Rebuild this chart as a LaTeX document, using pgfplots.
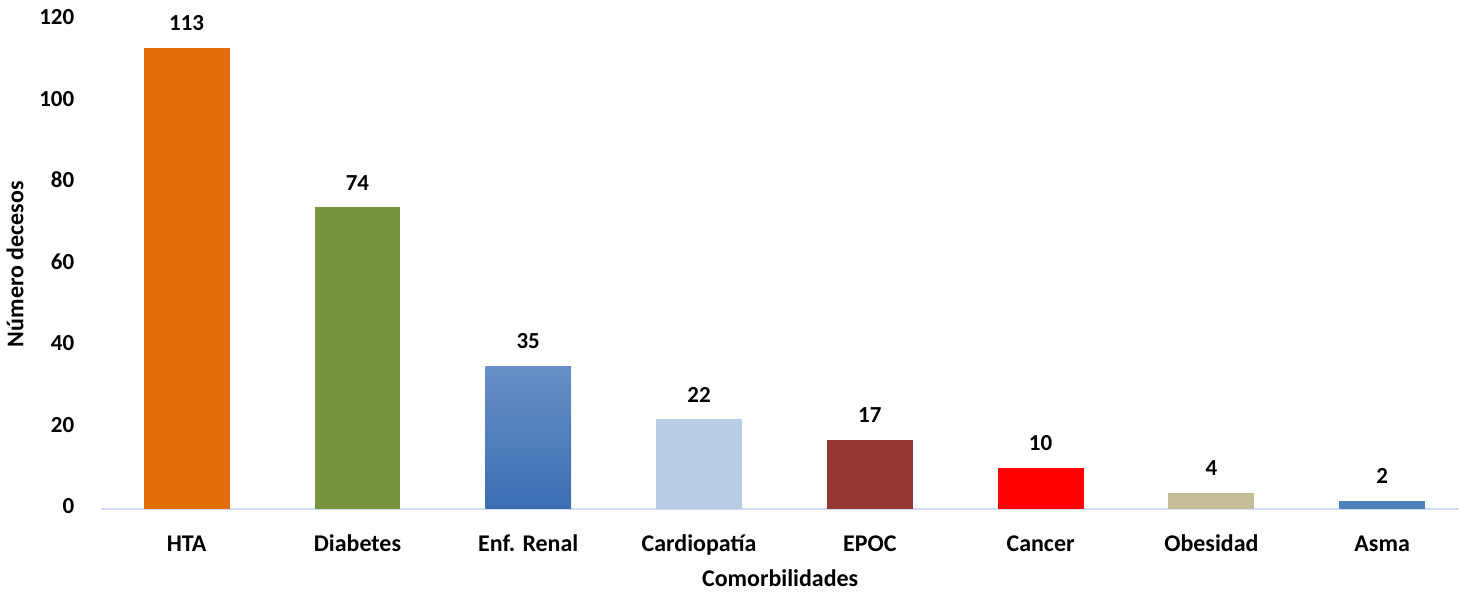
\documentclass[border=0pt]{standalone}
\usepackage{pgfplots}
\pgfplotsset{compat=1.18}
\usepackage{fontspec}
\setmainfont{Carlito}
\definecolor{cHTA}{RGB}{228,108,10}
\definecolor{cDia}{RGB}{119,147,60}
\definecolor{cRenTop}{RGB}{106,143,199}
\definecolor{cRenBot}{RGB}{58,110,178}
\definecolor{cCar}{RGB}{185,205,229}
\definecolor{cEPOC}{RGB}{149,55,53}
\definecolor{cCan}{RGB}{255,0,0}
\definecolor{cObe}{RGB}{196,189,151}
\definecolor{cAsma}{RGB}{79,129,189}
\definecolor{axline}{RGB}{208,220,240}
\begin{document}
\begin{tikzpicture}
\begin{axis}[
  scale only axis,
  width=680pt, height=245pt,
  xmin=-0.5, xmax=7.45,
  ymin=0, ymax=120,
  ytick={0,20,...,120},
  xtick={0,...,7},
  xticklabels={HTA,Diabetes,Enf. Renal,Cardiopatía,EPOC,Cancer,Obesidad,Asma},
  axis x line*=bottom,
  axis y line*=left,
  y axis line style={draw=none},
  x axis line style={axline, line width=1pt, -},
  major tick length=0pt,
  typeset ticklabels with strut,
  yticklabel style={font=\fontsize{11.5}{13}\selectfont\bfseries, xshift=-10pt},
  xticklabel style={font=\fontsize{12}{14}\selectfont\bfseries, yshift=-8pt},
  /pgf/number format/assume math mode=true,
  xlabel={Comorbilidades},
  ylabel={Número decesos},
  xlabel style={font=\fontsize{12}{14}\selectfont\bfseries, yshift=2pt},
  ylabel style={font=\fontsize{12}{14}\selectfont\bfseries, yshift=1pt},
  ybar, bar width=43pt, bar shift=0pt,
  nodes near coords,
  every node near coord/.append style={font=\fontsize{11.5}{13}\selectfont\bfseries, text=black, yshift=5pt},
  clip=false,
]
\addplot[draw=none, fill=cHTA] coordinates {(0,113)};
\addplot[draw=none, fill=cDia] coordinates {(1,74)};
\addplot[draw=none, top color=cRenTop, bottom color=cRenBot] coordinates {(2,35)};
\addplot[draw=none, fill=cCar] coordinates {(3,22)};
\addplot[draw=none, fill=cEPOC] coordinates {(4,17)};
\addplot[draw=none, fill=cCan] coordinates {(5,10)};
\addplot[draw=none, fill=cObe] coordinates {(6,4)};
\addplot[draw=none, fill=cAsma] coordinates {(7,2)};
\end{axis}
\end{tikzpicture}
\end{document}
